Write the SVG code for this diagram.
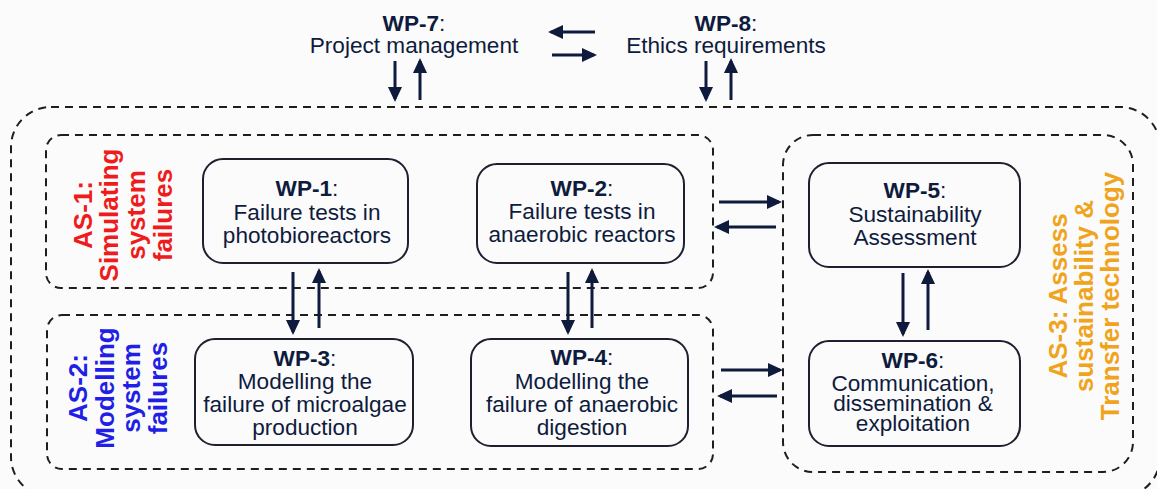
<svg xmlns="http://www.w3.org/2000/svg" width="1157" height="489" viewBox="0 0 1157 489">
<defs>
<style>
.bg{fill:#fbfbfb}
.grp{fill:none;stroke:#1e1e1e;stroke-width:2;stroke-dasharray:8 6}
.wp{fill:#fbfbfb;stroke:#1e2030;stroke-width:2}
.t{font-family:"Liberation Sans",Arial,sans-serif;font-size:22.6px;fill:#0f1b3d;text-anchor:middle}
.b{font-weight:bold}
.as{font-family:"Liberation Sans",Arial,sans-serif;font-size:26px;font-weight:bold;text-anchor:middle}
.c{stroke:#0f1b3d;stroke-width:3;fill:none;marker-end:url(#ah)}
</style>
<marker id="ah" markerUnits="userSpaceOnUse" markerWidth="16" markerHeight="14" refX="12" refY="7" orient="auto">
<path d="M0,0 L15,7 L0,14 z" fill="#0f1b3d"/>
</marker>
</defs>
<rect class="bg" x="0" y="0" width="1157" height="489"/>

<g id="outer"><rect class="grp" x="11" y="107" width="1149" height="390" rx="40"/></g>

<g id="AS-1">
<rect class="grp" x="46" y="135" width="667" height="153" rx="15"/>
<text class="as" fill="#ee1c1c" transform="translate(92,215) rotate(-90)"><tspan x="0" y="0">AS-1:</tspan><tspan x="0" y="26">Simulating</tspan><tspan x="0" y="52.5">system</tspan><tspan x="0" y="80">failures</tspan></text>
</g>
<g id="AS-2">
<rect class="grp" x="47" y="315" width="666" height="154" rx="15"/>
<text class="as" fill="#1f1fe6" transform="translate(87,388) rotate(-90)"><tspan x="0" y="0">AS-2:</tspan><tspan x="0" y="26.5">Modelling</tspan><tspan x="0" y="53">system</tspan><tspan x="0" y="80">failures</tspan></text>
</g>
<g id="AS-3">
<rect class="grp" x="783" y="135" width="350" height="337" rx="30"/>
<text class="as" fill="#f0a41e" transform="translate(1067,296) rotate(-90)"><tspan x="0" y="0">AS-3: Assess</tspan><tspan x="0" y="26">sustainability &amp;</tspan><tspan x="0" y="52">Transfer technology</tspan></text>
</g>

<g id="WP-7">
<text class="t" x="414" y="31"><tspan class="b">WP-7</tspan>:</text>
<text class="t" x="414" y="53">Project management</text>
</g>
<g id="WP-8">
<text class="t" x="726" y="31"><tspan class="b">WP-8</tspan>:</text>
<text class="t" x="726" y="53">Ethics requirements</text>
</g>

<g id="WP-1">
<rect class="wp" x="203" y="159" width="205" height="104" rx="20"/>
<text class="t" x="307" y="196"><tspan class="b">WP-1</tspan>:</text>
<text class="t" x="307" y="220">Failure tests in</text>
<text class="t" x="307" y="243">photobioreactors</text>
</g>
<g id="WP-2">
<rect class="wp" x="477" y="164" width="207" height="99" rx="20"/>
<text class="t" x="582" y="196"><tspan class="b">WP-2</tspan>:</text>
<text class="t" x="582" y="219">Failure tests in</text>
<text class="t" x="582" y="242">anaerobic reactors</text>
</g>
<g id="WP-3">
<rect class="wp" x="195" y="339" width="218" height="106" rx="20"/>
<text class="t" x="305" y="366"><tspan class="b">WP-3</tspan>:</text>
<text class="t" x="305" y="389">Modelling the</text>
<text class="t" x="305" y="412">failure of microalgae</text>
<text class="t" x="305" y="435">production</text>
</g>
<g id="WP-4">
<rect class="wp" x="471" y="339" width="217" height="107" rx="20"/>
<text class="t" x="582" y="365"><tspan class="b">WP-4</tspan>:</text>
<text class="t" x="582" y="389">Modelling the</text>
<text class="t" x="582" y="412">failure of anaerobic</text>
<text class="t" x="582" y="435">digestion</text>
</g>
<g id="WP-5">
<rect class="wp" x="809" y="163" width="211" height="104" rx="20"/>
<text class="t" x="915" y="198"><tspan class="b">WP-5</tspan>:</text>
<text class="t" x="915" y="222">Sustainability</text>
<text class="t" x="915" y="245">Assessment</text>
</g>
<g id="WP-6">
<rect class="wp" x="809" y="341" width="211" height="105" rx="20"/>
<text class="t" x="913" y="368"><tspan class="b">WP-6</tspan>:</text>
<text class="t" x="913" y="391">Communication,</text>
<text class="t" x="913" y="411">dissemination &amp;</text>
<text class="t" x="913" y="431">exploitation</text>
</g>

<g id="connectors">
<line class="c" x1="595" y1="32" x2="551" y2="32"/>
<line class="c" x1="552" y1="55" x2="594" y2="55"/>
<line class="c" x1="395" y1="61" x2="395" y2="99"/>
<line class="c" x1="420" y1="100" x2="420" y2="61"/>
<line class="c" x1="706" y1="61" x2="706" y2="99"/>
<line class="c" x1="731" y1="100" x2="731" y2="61"/>
<line class="c" x1="293" y1="272" x2="293" y2="332"/>
<line class="c" x1="319" y1="328" x2="319" y2="271"/>
<line class="c" x1="568" y1="272" x2="568" y2="332"/>
<line class="c" x1="592" y1="328" x2="592" y2="271"/>
<line class="c" x1="903" y1="273" x2="903" y2="334"/>
<line class="c" x1="928" y1="330" x2="928" y2="272"/>
<line class="c" x1="719" y1="202" x2="779" y2="202"/>
<line class="c" x1="776" y1="227" x2="717" y2="227"/>
<line class="c" x1="721" y1="370" x2="780" y2="370"/>
<line class="c" x1="777" y1="396" x2="720" y2="396"/>
</g>
</svg>
